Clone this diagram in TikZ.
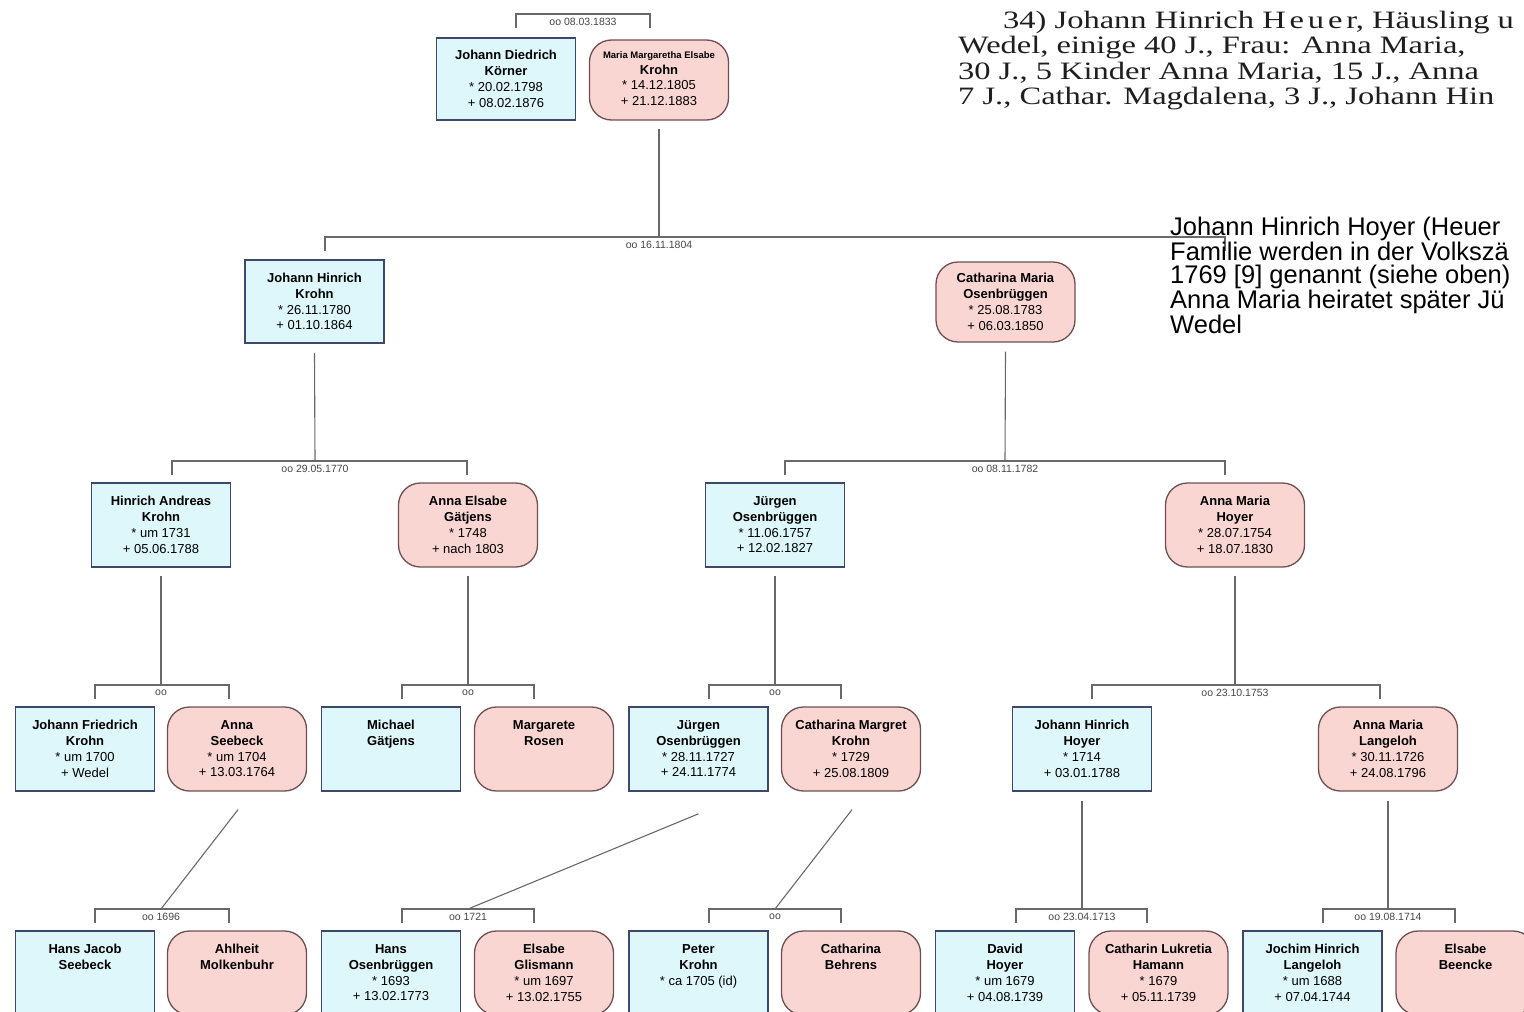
\documentclass[tikz,border=0pt]{standalone}
\usepackage{fontspec}
\setmainfont{Liberation Sans}
\newfontfamily\scanfont{Liberation Serif}
\definecolor{manfill}{RGB}{222,247,251}
\definecolor{manedge}{RGB}{62,72,108}
\definecolor{womanfill}{RGB}{250,214,211}
\definecolor{womanedge}{RGB}{112,78,78}
\definecolor{linkgray}{RGB}{105,105,105}
\definecolor{labelgray}{RGB}{70,70,70}
\definecolor{scanink}{RGB}{30,30,30}
\newcommand\pers[4]{\parbox[c][57pt][t]{134pt}{\centering\fontsize{13}{15.8}\selectfont
  \textbf{#1}\par\textbf{#2}\par #3\par #4\par}}
\newcommand\scanline[1]{\scalebox{1.3}[1]{#1}}
\begin{document}
\begin{tikzpicture}[x=1pt,y=-1pt,
  man/.style={draw=manedge, fill=manfill, line width=1.6pt,
    minimum width=139pt, minimum height=84pt, inner sep=0pt},
  woman/.style={draw=womanedge, fill=womanfill, line width=1.3pt,
    rounded corners=22pt, minimum width=139pt, minimum height=84pt, inner sep=0pt},
  link/.style={draw=linkgray, line width=1.1pt},
  wedding/.style={font=\fontsize{10.5}{12}\selectfont, text=labelgray, inner sep=1pt}]
\useasboundingbox (0,0) rectangle (1524,1012);
\clip (0,0) rectangle (1524,1012);

% marriage brackets: left x, right x, bar y, label, label x
\foreach \xl/\xr/\yb/\lab/\xm in {
   516/650/14/oo 08.03.1833/583,
   325/1225/237/oo 16.11.1804/659,
   172/467/461/oo 29.05.1770/315,
   785/1225/461/oo 08.11.1782/1005,
   95/229/685/oo/161,
   402/534/685/oo/468,
   709/841/685/oo/775,
   1092/1380/685/oo 23.10.1753/1235,
   95/229/909/oo 1696/161,
   402/534/909/oo 1721/468,
   709/841/909/oo/775,
   1016/1147/909/oo 23.04.1713/1082,
   1323/1455/909/oo 19.08.1714/1388}{
  \draw[link] (\xl,\yb+14) -- (\xl,\yb) -- (\xr,\yb) -- (\xr,\yb+14);
  \node[wedding] at (\xm,\yb+8) {\lab};
}

% generation 0
\node[man]   (kd)  at (506,79) [minimum height=82pt] {\pers{Johann Diedrich}{Körner}{* 20.02.1798}{+ 08.02.1876}};
\node[woman] (mk)  at (659,80) [minimum height=80pt] {\pers{\fontsize{9.5}{10}\selectfont Maria Margaretha Elsabe}{Krohn}{* 14.12.1805}{+ 21.12.1883}};
% generation 1
\node[man]   (jhk) at (314.5,301.5) [minimum height=83pt] {\pers{Johann Hinrich}{Krohn}{* 26.11.1780}{+ 01.10.1864}};
\node[woman] (cmo) at (1005.5,302) [minimum height=80pt] {\pers{Catharina Maria}{Osenbrüggen}{* 25.08.1783}{+ 06.03.1850}};
% generation 2
\node[man]   (hak) at (161,525) {\pers{Hinrich Andreas}{Krohn}{* um 1731}{+ 05.06.1788}};
\node[woman] (aeg) at (468,525) {\pers{Anna Elsabe}{Gätjens}{* 1748}{+ nach 1803}};
\node[man]   (jo1) at (775,525) {\pers{Jürgen}{Osenbrüggen}{* 11.06.1757}{+ 12.02.1827}};
\node[woman] (amh) at (1235,525) {\pers{Anna Maria}{Hoyer}{* 28.07.1754}{+ 18.07.1830}};
% generation 3
\node[man]   (jfk) at (85,749)  {\pers{Johann Friedrich}{Krohn}{* um 1700}{+ Wedel}};
\node[woman] (ase) at (237,749) {\pers{Anna}{Seebeck}{* um 1704}{+ 13.03.1764}};
\node[man]   (mga) at (391,749) {\pers{Michael}{Gätjens}{}{}};
\node[woman] (mro) at (544,749) {\pers{Margarete}{Rosen}{}{}};
\node[man]   (jo2) at (698.5,749) {\pers{Jürgen}{Osenbrüggen}{* 28.11.1727}{+ 24.11.1774}};
\node[woman] (cmk) at (851,749) {\pers{Catharina Margret}{Krohn}{* 1729}{+ 25.08.1809}};
\node[man]   (jhh) at (1082,749) {\pers{Johann Hinrich}{Hoyer}{* 1714}{+ 03.01.1788}};
\node[woman] (aml) at (1388,749) {\pers{Anna Maria}{Langeloh}{* 30.11.1726}{+ 24.08.1796}};
% generation 4
\node[man]   (hjs) at (85,973)  {\pers{Hans Jacob}{Seebeck}{}{}};
\node[woman] (amo) at (237,973) {\pers{Ahlheit}{Molkenbuhr}{}{}};
\node[man]   (hos) at (391,973) {\pers{Hans}{Osenbrüggen}{* 1693}{+ 13.02.1773}};
\node[woman] (egl) at (544,973) {\pers{Elsabe}{Glismann}{* um 1697}{+ 13.02.1755}};
\node[man]   (pkr) at (698.5,973) {\pers{Peter}{Krohn}{* ca 1705 (id)}{}};
\node[woman] (cbe) at (851,973) {\pers{Catharina}{Behrens}{}{}};
\node[man]   (dho) at (1005,973) {\pers{David}{Hoyer}{* um 1679}{+ 04.08.1739}};
\node[woman] (clh) at (1158.5,973) {\pers{Catharin Lukretia}{Hamann}{* 1679}{+ 05.11.1739}};
\node[man]   (jhl) at (1312.5,973) {\pers{Jochim Hinrich}{Langeloh}{* um 1688}{+ 07.04.1744}};
\node[woman] (ebe) at (1465.5,973) {\pers{Elsabe}{Beencke}{}{}};

% parent couples above each person
\coordinate (p0) at (659,237);
\coordinate (p1a) at (315,461);  \coordinate (p1b) at (1005,461);
\coordinate (p2a) at (161,685);  \coordinate (p2b) at (468,685);
\coordinate (p2c) at (775,685);  \coordinate (p2d) at (1235,685);
\coordinate (p3a) at (161,909);  \coordinate (p3b) at (468,909);
\coordinate (p3c) at (775,909);  \coordinate (p3d) at (1082,909);
\coordinate (p3e) at (1388,909);

\draw[link] ([yshift=-8pt]mk.south) -- (p0);
\draw[link] ([yshift=-9pt]jhk.south) -- (p1a);
\draw[link] ([yshift=-9pt]cmo.south) -- (p1b);
\draw[link] ([yshift=-8pt]hak.south) -- (p2a);
\draw[link] ([yshift=-8pt]aeg.south) -- (p2b);
\draw[link] ([yshift=-8pt]jo1.south) -- (p2c);
\draw[link] ([yshift=-8pt]amh.south) -- (p2d);
\draw[link] ([xshift=1pt,yshift=-18pt]ase.south) -- (p3a);
\draw[link] ([yshift=-22pt]jo2.south) -- (p3b);
\draw[link] ([xshift=1pt,yshift=-18pt]cmk.south) -- (p3c);
\draw[link] ([yshift=-9pt]jhh.south) -- (p3d);
\draw[link] ([yshift=-9pt]aml.south) -- (p3e);

% census excerpt, set in a heavy serif
\begin{scope}[every node/.style={anchor=base west, inner sep=0pt, text=scanink,
    font=\scanfont\fontsize{25}{27}\selectfont}]
\node (f1) at (1003,28)  {\scanline{34) Johann Hinrich H\hspace{3pt}e\hspace{3pt}u\hspace{3pt}e\hspace{3pt}r, Häusling u}};
\node (f2) at (958,53.5) {\scanline{Wedel, einige 40 J., Frau: Anna Maria,}};
\node (f3) at (958,79)   {\scanline{30 J., 5 Kinder Anna Maria, 15 J., Anna}};
\node (f4) at (958,104.5){\scanline{7 J., Cathar. Magdalena, 3 J., Johann Hin}};
\end{scope}

% note on the Hoyer family
\node[anchor=north west, inner sep=0pt, align=left, font=\fontsize{25.5}{23.4}\selectfont] (note) at (1170,217)
  {Johann Hinrich Hoyer (Heuer\\Familie werden in der Volkszä\\1769 [9] genannt (siehe oben)\\Anna Maria heiratet später Jü\\Wedel};
\end{tikzpicture}
\end{document}
